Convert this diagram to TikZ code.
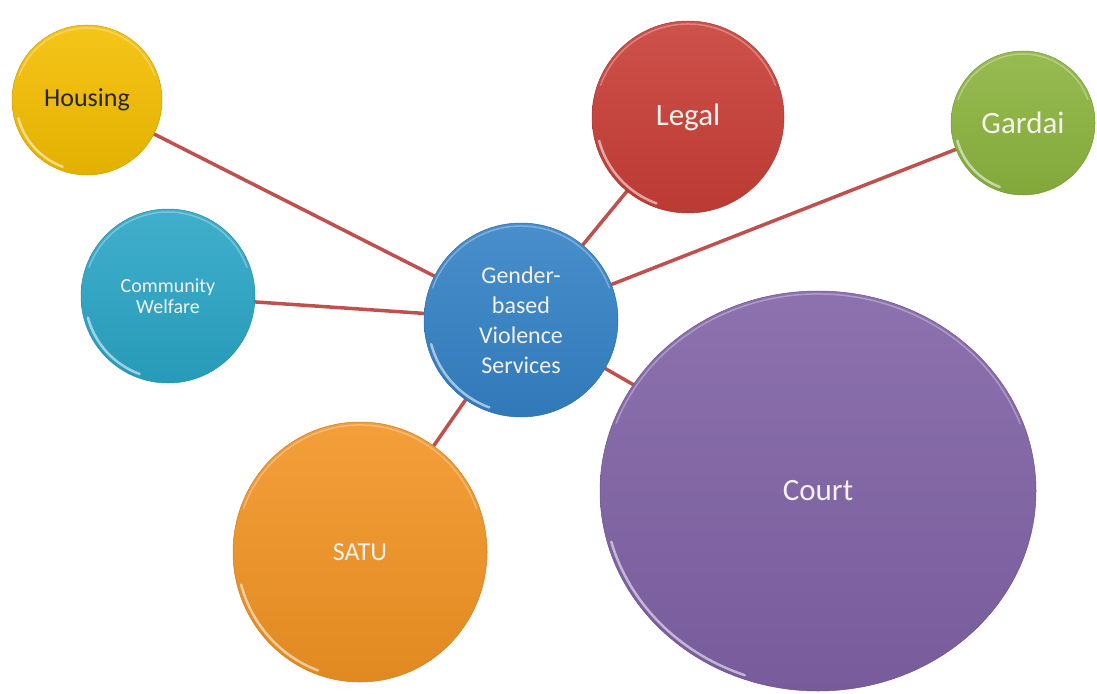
\documentclass[tikz,border=0pt]{standalone}
\usepackage{fontspec}
\setmainfont{Carlito}
\usetikzlibrary{shapes.geometric,backgrounds,calc}
\definecolor{cHous}{HTML}{F4BE00}
\definecolor{cLegal}{HTML}{C93E37}
\definecolor{cGard}{HTML}{8CB43E}
\definecolor{cComm}{HTML}{2AA6C6}
\definecolor{cGbv}{HTML}{3482C6}
\definecolor{cSatu}{HTML}{F29424}
\definecolor{cCourt}{HTML}{8062A6}
\definecolor{cLine}{HTML}{C0504D}
\definecolor{txtw}{HTML}{F4F1EE}
\tikzset{
  bubble/.style={inner sep=0pt, align=center, text=txtw,
    draw=#1!85!black, line width=0.5pt,
    top color=#1!90!white, bottom color=#1!93!black,
    glint},
  glint/.style={path picture={
    \draw[white, opacity=0.55, line width=2.5pt, line cap=round]
      let \p1=(path picture bounding box.north east),
          \p2=(path picture bounding box.center),
          \n1={\x1-\x2-4pt}, \n2={\y1-\y2-4pt} in
      ($(\p2)+(195:\n1 and \n2)$) arc[start angle=195, end angle=250, x radius=\n1, y radius=\n2];
    \draw[white, opacity=0.3, line width=1.5pt, line cap=round]
      let \p1=(path picture bounding box.north east),
          \p2=(path picture bounding box.center),
          \n1={\x1-\x2-3pt}, \n2={\y1-\y2-3pt} in
      ($(\p2)+(20:\n1 and \n2)$) arc[start angle=20, end angle=160, x radius=\n1, y radius=\n2];
  }},
  link/.style={draw=cLine, line width=3.5pt}
}
\begin{document}
\begin{tikzpicture}[x=1pt, y=-1pt]
\useasboundingbox (0,0) rectangle (1097,693);
\node[bubble=cHous, circle, minimum size=150pt, text=black!85,
      font=\fontsize{26}{30}\selectfont] (housing) at (87,100) {Housing};
\node[bubble=cLegal, circle, minimum size=192pt,
      font=\fontsize{31}{36}\selectfont] (legal) at (688,117) {Legal};
\node[bubble=cGard, circle, minimum size=144pt,
      font=\fontsize{31}{36}\selectfont] (gardai) at (1023,123) {Gardai};
\node[bubble=cComm, circle, minimum size=174pt,
      font=\fontsize{20}{21}\selectfont] (comm) at (168,296) {Community\\Welfare};
\node[bubble=cGbv, circle, minimum size=194pt,
      font=\fontsize{24}{30}\selectfont] (gbv) at (521,320) {Gender-\\based\\Violence\\Services};
\node[bubble=cSatu, ellipse, minimum width=254pt, minimum height=260pt,
      font=\fontsize{26}{30}\selectfont] (satu) at (360,552) {SATU};
\node[bubble=cCourt, ellipse, minimum width=436pt, minimum height=400pt,
      font=\fontsize{31}{36}\selectfont] (court) at (818,491) {Court};
\begin{scope}[on background layer]
  \draw[link] (gbv.center) -- (housing.center);
  \draw[link] (gbv.center) -- (comm.center);
  \draw[link] (gbv.center) -- (legal.center);
  \draw[link] (gbv.center) -- (gardai.center);
  \draw[link] (gbv.center) -- (satu.center);
  \draw[link] (gbv.center) -- (court.center);
\end{scope}
\end{tikzpicture}
\end{document}
